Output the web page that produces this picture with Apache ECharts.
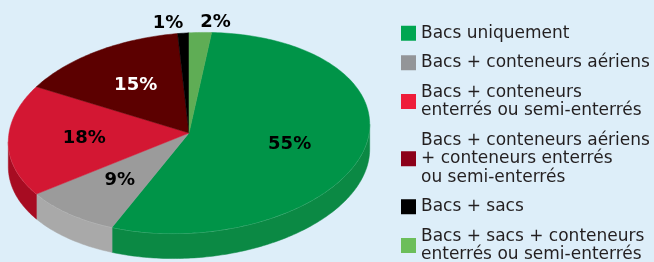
<!DOCTYPE html>
<html lang="fr">
<head>
<meta charset="UTF-8">
<title>Pie 3D</title>
<script src="https://cdn.jsdelivr.net/npm/echarts@6/dist/echarts.min.js"></script>
<style>
  html, body { margin: 0; padding: 0; background: #ddeef9; }
  #main { width: 654px; height: 262px; }
</style>
</head>
<body>
<div id="main"></div>
<script>
// données
var names = [
  'Bacs uniquement',
  'Bacs + conteneurs aériens',
  'Bacs + conteneurs\nenterrés ou semi-enterrés',
  'Bacs + conteneurs aériens\n+ conteneurs enterrés\nou semi-enterrés',
  'Bacs + sacs',
  'Bacs + sacs + conteneurs\nenterrés ou semi-enterrés'
];
var values = [55, 9, 18, 15, 1, 2];
var topColors = ['#009448', '#9b9b9b', '#d31733', '#5c0000', '#000000', '#5fad55'];
var sideColors = ['#0b8944', '#a9a9a9', '#a70c22', '#3d0000', '#000000', '#4a8f43'];
var legendColors = ['#00a651', '#939598', '#ee1c3a', '#8c0019', '#000000', '#6cbe5a'];
var labelColors = ['#000', '#000', '#000', '#fff', '#000', '#000'];

// géométrie de l'ellipse
var cx = 189, cy = 133, rx = 181, ry = 100, depth = 25;
var phi = -4 * Math.PI / 180;
var eps = Math.atan2(-ry * Math.sin(phi), rx * Math.cos(phi)) * 180 / Math.PI;
var startDeg = eps; // trait vertical en haut
var frontA = 90 + eps, frontB = 270 + eps;

// ordre horaire depuis le haut: 2%, 55%, 9%, 18%, 15%, 1%
var order = [5, 0, 1, 2, 3, 4];
var total = values.reduce(function (a, b) { return a + b; }, 0);
var startOf = {};
var acc = 0;
order.forEach(function (i) { startOf[i] = acc; acc += values[i]; });

function proj(tDeg, f, dy) {
  var t = tDeg * Math.PI / 180;
  var u = rx * f * Math.sin(t), v = -ry * f * Math.cos(t);
  return [cx + u * Math.cos(phi) - v * Math.sin(phi),
          cy + u * Math.sin(phi) + v * Math.cos(phi) + (dy || 0)];
}

function arc(a, b, dy) {
  var pts = [];
  var n = Math.max(2, Math.ceil(b - a));
  for (var k = 0; k <= n; k++) pts.push(proj(a + (b - a) * k / n, 1, dy));
  return pts;
}

function renderSlice(i) {
  return function (params, api) {
    var t0 = startDeg + startOf[i] / total * 360;
    var t1 = t0 + values[i] / total * 360;
    var children = [];
    // face latérale visible
    var a = Math.max(t0, frontA), b = Math.min(t1, frontB);
    if (b > a) {
      var upper = arc(a, b, 0);
      var lower = arc(a, b, depth).reverse();
      children.push({
        type: 'polygon',
        shape: { points: upper.concat(lower) },
        style: { fill: sideColors[i], stroke: sideColors[i], lineWidth: 0.5 }
      });
      children.push({
        type: 'polyline',
        shape: { points: upper },
        style: { fill: null, stroke: 'rgba(255,255,255,0.35)', lineWidth: 1 }
      });
    }
    // face du dessus
    var top = [[cx, cy]].concat(arc(t0, t1, 0));
    children.push({
      type: 'polygon',
      shape: { points: top },
      style: { fill: topColors[i], stroke: topColors[i], lineWidth: 0.5 }
    });
    // étiquette
    var mid = (t0 + t1) / 2;
    var pct = values[i] / total * 100;
    var p, align;
    if (pct < 5) {
      p = proj(mid, 1, -10);
      align = p[0] < cx ? 'right' : 'left';
    } else {
      p = proj(mid, 0.58, 0);
      align = 'center';
    }
    children.push({
      type: 'text',
      z2: 10,
      style: {
        x: p[0], y: p[1], text: values[i] + '%',
        align: align, verticalAlign: 'middle',
        fill: labelColors[i],
        font: 'bold 18px "DejaVu Sans"'
      }
    });
    return { type: 'group', children: children };
  };
}

var series = names.map(function (n, i) {
  return {
    type: 'custom',
    name: n,
    coordinateSystem: 'none',
    data: [[i]],
    itemStyle: { color: legendColors[i] },
    renderItem: renderSlice(i),
    silent: true
  };
});

var myChart = echarts.init(document.getElementById('main'));
var option = {
  animation: false,
  backgroundColor: '#ddeef9',
  legend: {
    orient: 'vertical',
    left: 401,
    top: 24,
    height: 250,
    padding: 0,
    itemWidth: 15,
    itemHeight: 15,
    itemGap: 11,
    icon: 'rect',
    selectedMode: false,
    textStyle: {
      fontFamily: 'DejaVu Sans',
      fontSize: 17,
      lineHeight: 18.5,
      color: '#231f20'
    },
    data: names.map(function (n, i) {
      return { name: n, itemStyle: { color: legendColors[i] } };
    })
  },
  series: series
};
myChart.setOption(option);
</script>
</body>
</html>
